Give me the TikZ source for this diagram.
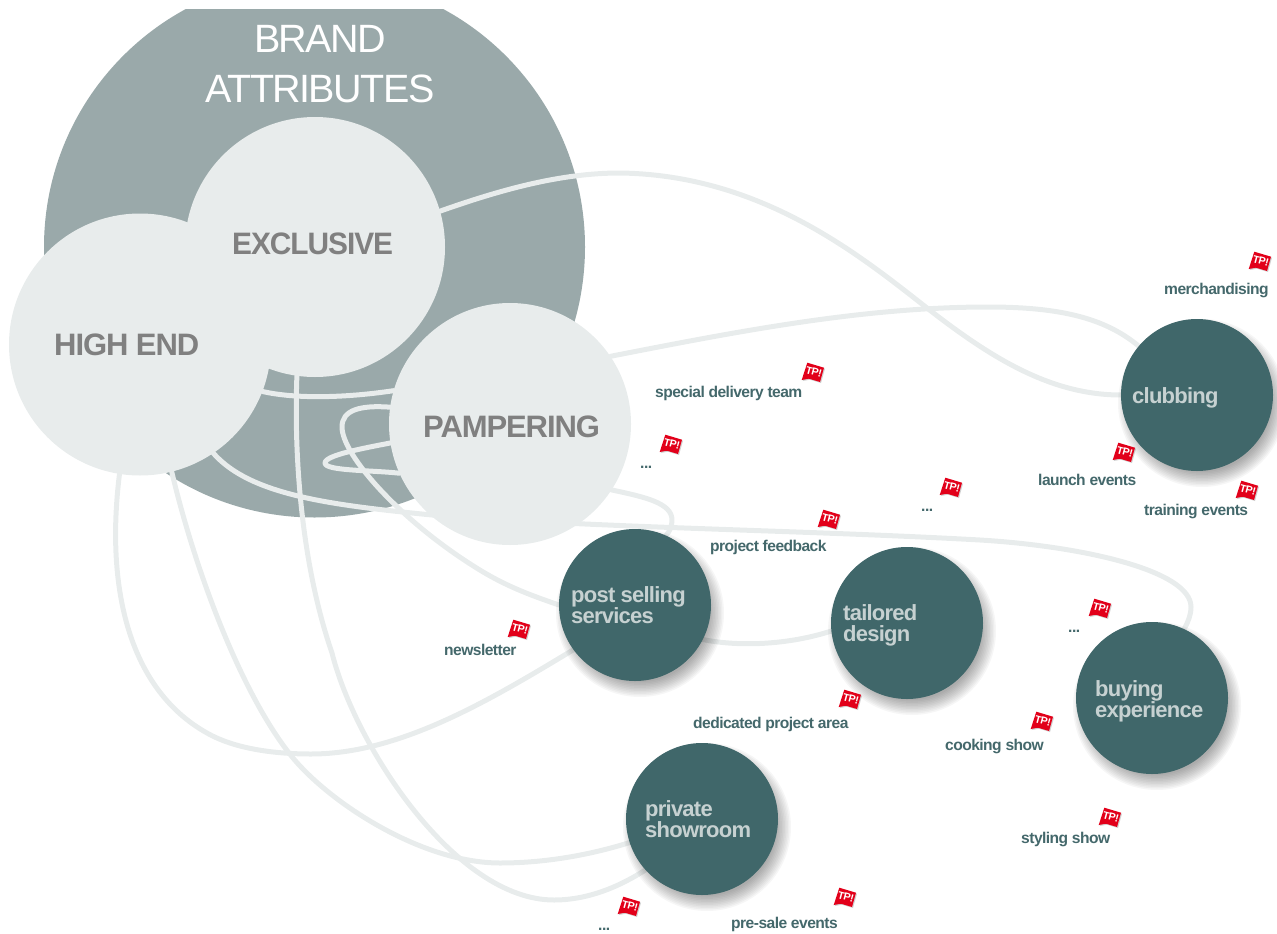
\documentclass[tikz,border=0pt]{standalone}
\usepackage{fontspec}
\setmainfont{Liberation Sans}
\definecolor{bigc}{HTML}{9AA9AA}
\definecolor{lightc}{HTML}{E8ECEC}
\definecolor{darkc}{HTML}{40676A}
\definecolor{bigtxt}{HTML}{808080}
\definecolor{dtxt}{HTML}{C6D1D1}
\definecolor{lab}{HTML}{44686B}
\definecolor{flagred}{HTML}{E2001A}
\pgfdeclarelayer{bigl}\pgfdeclarelayer{lines}
\pgfsetlayers{bigl,lines,main}
\newfontfamily\tightbold[LetterSpace=-3.5]{Liberation Sans Bold}
\newfontfamily\tightreg[LetterSpace=-4]{Liberation Sans}
\tikzset{
  lightnode/.style={circle,fill=lightc,inner sep=0,outer sep=0,minimum size=#1},
  darknode/.style={circle,fill=darkc,inner sep=0,outer sep=0,minimum size=152pt},
  conn/.style={draw=lightc,line width=5pt,line cap=round,line join=round},
  bigtext/.style={anchor=base west,inner sep=0,text=bigtxt,font=\tightbold\fontsize{31}{31}\selectfont},
  dtext/.style={anchor=base west,inner sep=0,text=dtxt,font=\tightbold\fontsize{22}{21}\selectfont,align=left},
  labtext/.style={anchor=base west,inner sep=0,text=lab,font=\tightbold\fontsize{15.6}{15.6}\selectfont},
  flagtext/.style={inner sep=0,text=white,font=\tightbold\fontsize{10.5}{10.5}\selectfont,rotate=-15},
  headtext/.style={anchor=base,inner sep=0,text=white,font=\tightreg\fontsize{39.5}{39.5}\selectfont},
}
\newcommand\softshadow[2]{%
  \foreach \rr in {69,70.5,...,84}{\fill[black,opacity=0.035] (#1+5,#2+8) circle[radius=\rr pt];}}
\newcommand\tpflag[3]{%
  \begin{scope}[shift={(#2,#3)}]
    \fill[black,opacity=.18] (-4.7,-9.3) -- (12,-4.3) -- (8,10) -- (-3,6.7) -- (-10.3,8) -- cycle;
    \fill[flagred] (-5.7,-10.3) -- (11,-5.3) -- (7,9) -- (-4,5.7) -- (-11.3,7) -- cycle;
    \node[flagtext] (#1) at (0.8,-1) {TP!};
  \end{scope}}
\begin{document}
\begin{tikzpicture}[x=1pt,y=-1pt]
\useasboundingbox (0,0) rectangle (1277,934);
\begin{pgfonlayer}{bigl}
  \begin{scope}
    \clip (0,10) rectangle (1277,934);
    \node[lightnode=541pt,fill=bigc] (brand) at (314.5,247) {};
  \end{scope}
\end{pgfonlayer}
\node[headtext] (h1) at (320,53) {BRAND};
\node[headtext] (h2) at (320,102) {ATTRIBUTES};
% light circles
\node[lightnode=260pt] (exclusive) at (315,247) {};
\node[lightnode=262pt] (highend) at (140,344.5) {};
\node[lightnode=242pt] (pampering) at (510,424) {};
\node[bigtext] (t1) at (232,254) {\scalebox{.963}[1]{EXCLUSIVE}};
\node[bigtext] (t2) at (54,355) {HIGH END};
\node[bigtext] (t3) at (423,437) {PAMPERING};
% dark circles
\softshadow{1197}{395}
\node[darknode] (clubbing) at (1197,395) {};
\softshadow{635}{605}
\node[darknode] (post) at (635,605) {};
\softshadow{907}{623}
\node[darknode] (tailored) at (907,623) {};
\softshadow{1152}{698}
\node[darknode] (buying) at (1152,698) {};
\softshadow{702}{819}
\node[darknode] (private) at (702,819) {};
\node[dtext] (d1) at (1132,403) {clubbing};
\node[dtext] (d2) at (571,623) {post selling\\services};
\node[dtext] (d3) at (843,641) {tailored\\design};
\node[dtext] (d4) at (1095,717) {buying\\experience};
\node[dtext] (d5) at (645,837) {private\\showroom};
% connectors
\begin{pgfonlayer}{lines}
  \draw[conn] (exclusive.16) .. controls (500,190) and (560,173) .. (620,173)
     .. controls (760,175) and (857,253) .. (927,308)
     .. controls (990,357) and (1050,395) .. (clubbing.180);
  \draw[conn] (pampering.34) .. controls (730,333) and (860,307) .. (988,307)
     .. controls (1060,307) and (1105,318) .. (clubbing.140);
  \draw[conn] (exclusive.262) .. controls (294,450) and (300,560) .. (332,653)
     .. controls (355,745) and (455,900) .. (554,900)
     .. controls (590,900) and (622,885) .. (private.222);
  \draw[conn] (highend.-21) .. controls (295,399) and (345,398) .. (pampering.164);
  \draw[conn] (pampering.172) .. controls (360,405) and (342,410) .. (342,427)
     .. controls (342,455) and (400,520) .. (475,567)
     .. controls (505,586) and (530,595) .. (post.180);
  \draw[conn] (pampering.189) .. controls (365,448) and (325,455) .. (325,463)
     .. controls (325,471) and (370,470) .. (pampering.204);
  \draw[conn] (highend.-56) .. controls (250,495) and (330,505) .. (432,515)
     .. controls (600,528) and (800,530) .. (980,540)
     .. controls (1080,546) and (1191,570) .. (1191,607)
     .. controls (1191,615) and (1188,622) .. (buying.65);
  \draw[conn] (pampering.-33) .. controls (645,497) and (672,503) .. (672,520)
     .. controls (672,526) and (670,531) .. (post.66);
  \draw[conn] (post.-27) .. controls (745,648) and (795,643) .. (tailored.186);
  \draw[conn] (highend.-99) .. controls (105,590) and (130,690) .. (207,733)
     .. controls (235,749) and (275,754) .. (311,754)
     .. controls (400,754) and (490,700) .. (post.216);
  \draw[conn] (highend.-76) .. controls (195,570) and (240,690) .. (289,753)
     .. controls (325,800) and (420,863) .. (500,863)
     .. controls (545,863) and (590,855) .. (private.198);
\end{pgfonlayer}
% labels
\node[labtext] (l1) at (1164,294) {merchandising};
\node[labtext] (l2) at (655,397) {special delivery team};
\node[labtext] (l3) at (640,468) {...};
\node[labtext] (l4) at (1038,485) {launch events};
\node[labtext] (l5) at (1144,515) {training events};
\node[labtext] (l6) at (921,511) {...};
\node[labtext] (l7) at (710,551) {project feedback};
\node[labtext] (l8) at (444,655) {newsletter};
\node[labtext] (l9) at (1068,632) {...};
\node[labtext] (l10) at (693,728) {dedicated project area};
\node[labtext] (l11) at (945,750) {cooking show};
\node[labtext] (l12) at (1021,843) {styling show};
\node[labtext] (l13) at (598,930) {...};
\node[labtext] (l14) at (731,928) {pre-sale events};
% flags
\tpflag{f1}{1260}{262}
\tpflag{f2}{813}{373}
\tpflag{f3}{671}{445}
\tpflag{f4}{1124}{453}
\tpflag{f5}{1247}{491}
\tpflag{f6}{951}{488}
\tpflag{f7}{829}{520}
\tpflag{f8}{519}{630}
\tpflag{f9}{1100}{609}
\tpflag{f10}{850}{700}
\tpflag{f11}{1042}{722}
\tpflag{f12}{1110}{818}
\tpflag{f13}{629}{907}
\tpflag{f14}{845}{898}
\end{tikzpicture}
\end{document}
